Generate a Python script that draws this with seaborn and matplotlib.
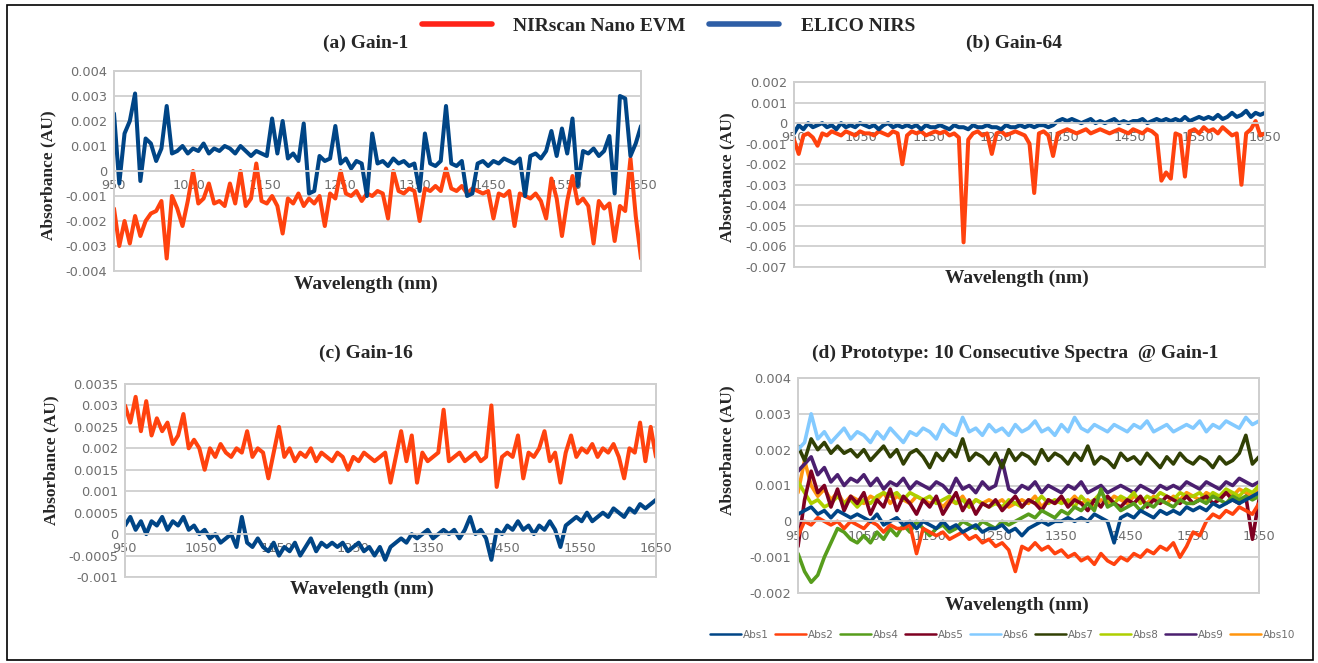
import numpy as np
import pandas as pd
import matplotlib
matplotlib.use("Agg")
import matplotlib.pyplot as plt
from matplotlib.lines import Line2D
from matplotlib.patches import Rectangle
from matplotlib.ticker import FixedLocator, MultipleLocator, FuncFormatter
import seaborn as sns

# ---- data (absorbance written in units of 1e-4 AU) ----
U = 1e-4
wl_abc = np.arange(950, 1651, 7)    # wavelength grid for panels a-c (nm)
wl_d = np.arange(950, 1651, 10)     # wavelength grid for panel d (nm)
x_ticks = [950, 1050, 1150, 1250, 1350, 1450, 1550, 1650]

# (a) Gain-1
a_nirscan = [-15, -30, -20, -29, -18, -26, -20, -17, -16, -12,
             -35, -10, -15, -22, -12, 0, -13, -11, -5, -13,
             -12, -14, -5, -13, 0, -14, -11, 3, -12, -13,
             -10, -14, -25, -11, -13, -9, -14, -11, -13, -10,
             -22, -9, -11, 0, -9, -10, -8, -12, -9, -10,
             -8, -9, -19, 0, -8, -9, -7, -8, -20, -7,
             -8, -6, -8, 1, -7, -8, -6, -9, -7, -8,
             -9, -8, -19, -9, -10, -8, -22, -9, -10, -11,
             -9, -12, -19, -3, -11, -26, -12, -2, -13, -11,
             -14, -29, -12, -15, -13, -28, -14, -16, 5, -18,
             -35]
a_elico = [23, -5, 15, 20, 31, -4, 13, 11, 4, 9,
           26, 7, 8, 10, 7, 9, 8, 11, 7, 9,
           8, 10, 9, 7, 10, 8, 6, 8, 7, 6,
           21, 7, 20, 5, 7, 4, 19, -9, -8, 6,
           4, 5, 18, 3, 5, 1, 4, 3, -10, 15,
           3, 4, 2, 5, 3, 4, 2, 3, -8, 15,
           3, 2, 4, 26, 3, 2, 4, -10, -9, 3,
           4, 2, 4, 3, 5, 4, 3, 5, -10, 6,
           7, 5, 8, 16, 6, 17, 7, 21, -6, 8,
           7, 9, 6, 8, 14, -9, 30, 29, 6, 11,
           18]

# (b) Gain-64
b_nirscan = [-8, -15, -6, -5, -7, -11, -5, -6, -4, -5,
             -6, -4, -5, -6, -4, -5, -5, -6, -4, -5,
             -6, -4, -5, -20, -6, -4, -5, -4, -6, -5,
             -4, -5, -4, -6, -5, -7, -58, -8, -5, -4,
             -6, -5, -15, -5, -4, -6, -5, -4, -5, -6,
             -10, -34, -5, -4, -6, -16, -5, -4, -3, -4,
             -5, -4, -3, -5, -4, -3, -4, -5, -4, -3,
             -4, -5, -3, -4, -5, -3, -4, -6, -28, -24,
             -27, -5, -6, -26, -4, -3, -5, -2, -4, -3,
             -5, -2, -4, -6, -5, -30, -5, -3, 1, -6,
             -5]
b_elico = [-5, -1, -3, 0, -2, -1, 0, -2, -1, -3,
           0, -2, -1, -2, 0, -1, -2, -1, -3, -1,
           0, -2, -1, -2, -1, -2, -1, -3, -1, -2,
           -2, -1, -2, -3, -1, -2, -2, -3, -1, -2,
           -2, -1, -2, -2, -3, -1, -2, -2, -1, -2,
           -1, -2, -1, -1, -2, -1, 1, 2, 1, 2,
           1, 0, 1, 2, 0, 1, 0, 1, 2, 0,
           1, 0, 1, 1, 2, 0, 1, 2, 1, 2,
           1, 2, 1, 3, 1, 2, 3, 2, 3, 2,
           4, 2, 3, 5, 3, 4, 6, 3, 5, 4,
           5]

# (c) Gain-16
c_nirscan = [30, 26, 32, 24, 31, 23, 27, 24, 26, 21,
             23, 28, 20, 22, 20, 15, 20, 18, 21, 19,
             18, 20, 19, 24, 18, 20, 19, 13, 19, 25,
             18, 20, 17, 19, 18, 20, 17, 19, 18, 17,
             19, 18, 15, 18, 17, 19, 18, 17, 18, 19,
             12, 18, 24, 17, 23, 12, 19, 17, 18, 19,
             29, 17, 18, 19, 17, 18, 19, 17, 18, 30,
             11, 18, 19, 18, 23, 13, 19, 18, 20, 24,
             17, 19, 12, 19, 23, 18, 20, 19, 21, 18,
             20, 19, 21, 18, 13, 20, 19, 26, 17, 25,
             18]
c_elico = [2, 4, 1, 3, 0, 3, 2, 4, 1, 3,
           2, 4, 1, 2, 0, 1, -1, 0, -2, -1,
           0, -3, 4, -2, -3, -1, -3, -4, -2, -5,
           -3, -4, -2, -5, -3, -1, -4, -2, -3, -2,
           -3, -2, -4, -3, -2, -4, -3, -5, -3, -6,
           -3, -2, -1, -2, 0, -1, 0, 1, -1, 0,
           1, 0, 1, -1, 1, 4, 0, 1, -1, -6,
           1, 0, 2, 1, 3, 1, 2, 0, 2, 1,
           3, 1, -3, 2, 3, 4, 3, 5, 3, 4,
           5, 4, 6, 5, 4, 6, 5, 7, 6, 7,
           8]

# (d) Prototype: 10 consecutive spectra
abs1 = [2, 3, 4, 2, 3, 1, 3, 2, 1, 2, 1, 0, 2, -1, 0, 1, -1, 0, -2, 0,
        -1, -2, 0, -2, -1, -3, -2, -1, -3, -2, -2, -1, -3, -2, -4, -2, -1, 0, -1, 0,
        0, 1, 0, 1, 0, 2, 1, 0, -6, 1, 2, 1, 3, 2, 1, 3, 2, 3, 2, 4,
        3, 4, 3, 5, 4, 5, 6, 5, 6, 7, 8]
abs2 = [-4, 0, -1, 1, 0, -1, 0, -2, 0, -1, -2, 0, -1, -3, -1, -2, -2, -1, -9, -2,
        -3, -4, -3, -5, -4, -3, -5, -4, -6, -5, -7, -6, -8, -14, -7, -8, -6, -8, -7, -9,
        -8, -10, -9, -11, -10, -12, -9, -11, -12, -10, -11, -9, -10, -8, -9, -7, -8, -6, -10, -7,
        -3, -4, 0, 2, 1, 3, 2, 4, 3, 2, 5]
abs4 = [-9, -14, -17, -15, -10, -6, -2, -3, -5, -6, -4, -6, -3, -5, -2, -4, -1, -3, 0, -2,
        -4, -2, -1, -3, -2, 0, -1, -2, 0, -1, -2, 0, -1, 0, 1, 2, 1, 3, 2, 1,
        3, 2, 4, 3, 5, 3, 9, 4, 5, 3, 4, 5, 3, 5, 4, 6, 5, 4, 6, 5,
        5, 6, 5, 7, 6, 5, 7, 6, 7, 6, 7]
abs5 = [-7, 6, 14, 8, 10, 4, 9, 3, 7, 5, 8, 2, 6, 4, 9, 3, 7, 5, 2, 6,
        4, 7, 2, 5, 8, 3, 6, 2, 5, 4, 6, 3, 5, 7, 4, 6, 5, 3, 6, 5,
        7, 4, 6, 5, 3, 6, 4, 7, 5, 4, 6, 5, 7, 4, 6, 5, 7, 6, 5, 7,
        5, 6, 7, 5, 6, 8, 6, 5, 7, -5, 6]
abs6 = [20, 22, 30, 23, 25, 22, 24, 26, 23, 25, 24, 22, 25, 23, 26, 24, 22, 25, 24, 26,
        25, 23, 27, 25, 24, 29, 25, 26, 24, 27, 25, 26, 24, 27, 25, 26, 28, 25, 26, 24,
        27, 25, 29, 26, 25, 27, 26, 25, 27, 26, 25, 27, 26, 28, 25, 26, 27, 25, 26, 27,
        26, 28, 25, 27, 26, 28, 27, 26, 29, 27, 28]
abs7 = [21, 17, 23, 20, 22, 19, 21, 19, 20, 18, 20, 17, 19, 21, 18, 20, 16, 19, 20, 18,
        15, 19, 17, 20, 18, 23, 17, 19, 18, 16, 19, 15, 20, 17, 19, 18, 16, 20, 17, 19,
        18, 16, 19, 17, 21, 16, 18, 17, 15, 19, 17, 18, 16, 19, 17, 15, 18, 16, 19, 17,
        16, 18, 17, 15, 18, 16, 17, 19, 24, 16, 18]
abs8 = [11, 8, 5, 6, 4, 5, 7, 5, 6, 4, 6, 5, 7, 8, 7, 8, 6, 8, 7, 6,
        7, 5, 6, 7, 5, 6, 4, 6, 5, 4, 5, 4, 6, 5, 4, 6, 5, 7, 5, 6,
        5, 6, 4, 7, 5, 6, 8, 6, 5, 7, 6, 8, 5, 7, 6, 8, 7, 6, 8, 7,
        7, 8, 6, 8, 7, 9, 8, 7, 9, 8, 10]
abs9 = [14, 16, 18, 13, 15, 11, 13, 10, 12, 11, 13, 10, 12, 9, 11, 10, 12, 9, 11, 10,
        9, 11, 10, 8, 12, 9, 10, 8, 11, 9, 10, 17, 9, 8, 10, 9, 11, 8, 10, 9,
        8, 10, 9, 11, 8, 9, 10, 8, 9, 10, 9, 8, 10, 9, 8, 10, 9, 10, 9, 11,
        10, 9, 11, 10, 9, 11, 10, 12, 11, 10, 11]
abs10 = [8, 17, 10, 7, 9, 6, 8, 5, 7, 6, 5, 7, 6, 8, 5, 7, 6, 5, 7, 6,
         5, 6, 4, 6, 5, 7, 4, 6, 5, 6, 5, 6, 4, 5, 6, 5, 7, 4, 6, 5,
         6, 5, 7, 5, 6, 4, 6, 5, 7, 6, 5, 7, 6, 5, 7, 6, 5, 7, 6, 8,
         7, 6, 8, 7, 6, 8, 7, 9, 8, 7, 9]

d_names = ["Abs1", "Abs2", "Abs4", "Abs5", "Abs6", "Abs7", "Abs8", "Abs9", "Abs10"]
d_series = [abs1, abs2, abs4, abs5, abs6, abs7, abs8, abs9, abs10]
d_colors = ["#004586", "#ff420e", "#579d1c", "#7e0021", "#83caff",
            "#314004", "#aecf00", "#4b1f6f", "#ff950e"]

# ---- style ----
sns.set_style("white")
plt.rcParams["font.family"] = ["DejaVu Sans"]

W, H = 1318, 663
ORANGE, BLUE = "#ff420e", "#004586"
GRID = "#cfcfcf"
TICK = "#6e6e6e"
SERIF = dict(family="Liberation Serif", weight="bold")

fig = plt.figure(figsize=(W / 100, H / 100), dpi=100)


def fmt(v, pos):
    if abs(v) < 1e-12:
        return "0"
    return "%g" % round(v, 6)


def panel(box, ylo, yhi, ystep):
    l, t, r, b = box
    ax = fig.add_axes([l / W, 1 - b / H, (r - l) / W, (b - t) / H])
    ax.set_xlim(950, 1650)
    ax.set_ylim(ylo, yhi)
    ax.xaxis.set_major_locator(FixedLocator(x_ticks))
    ax.yaxis.set_major_locator(MultipleLocator(ystep))
    ax.yaxis.set_major_formatter(FuncFormatter(fmt))
    ax.set_axisbelow(True)
    ax.grid(axis="y", color=GRID, lw=1.3)
    ax.grid(axis="x", visible=False)
    for side in ["top", "left", "right", "bottom"]:
        ax.spines[side].set_color(GRID)
        ax.spines[side].set_linewidth(1.3)
    ax.spines["bottom"].set_position(("data", 0))
    ax.add_patch(Rectangle((0, 0), 1, 1, transform=ax.transAxes, fill=False,
                           ec=GRID, lw=1.3, clip_on=False, zorder=0.5))
    ax.tick_params(length=0, labelsize=9.3, labelcolor=TICK)
    ax.tick_params(axis="x", pad=6)
    ax.tick_params(axis="y", pad=5)
    return ax


def label(x, y, s, size=14, rot=0):
    fig.text(x / W, 1 - y / H, s, ha="center", va="center", fontsize=size,
             rotation=rot, **SERIF)


def pair(ax, nir, elico):
    sns.lineplot(x=wl_abc, y=np.array(nir) * U, ax=ax, color=ORANGE, lw=2.9,
                 estimator=None, sort=False)
    sns.lineplot(x=wl_abc, y=np.array(elico) * U, ax=ax, color=BLUE, lw=2.9,
                 estimator=None, sort=False)
    ax.set_xlabel("")
    ax.set_ylabel("")


# (a)
ax_a = panel((114, 71, 641, 271), -0.004, 0.004, 0.001)
pair(ax_a, a_nirscan, a_elico)
label(366, 43, "(a) Gain-1")
label(366, 284, "Wavelength (nm)")
label(48, 175, "Absorbance (AU)", 12.5, 90)

# (b)
ax_b = panel((794, 82, 1265, 267), -0.007, 0.002, 0.001)
pair(ax_b, b_nirscan, b_elico)
label(1014, 43, "(b) Gain-64")
label(1017, 278, "Wavelength (nm)")
label(727, 177, "Absorbance (AU)", 12.5, 90)

# (c)
ax_c = panel((125, 384, 656, 577), -0.001, 0.0035, 0.0005)
pair(ax_c, c_nirscan, c_elico)
label(366, 353, "(c) Gain-16")
label(362, 589, "Wavelength (nm)")
label(51, 460, "Absorbance (AU)", 12.5, 90)

# (d)
ax_d = panel((798, 378, 1259, 593), -0.002, 0.004, 0.001)
df_d = pd.DataFrame({
    "wl": np.tile(wl_d, len(d_names)),
    "abs": np.concatenate([np.array(s) * U for s in d_series]),
    "run": np.repeat(d_names, len(wl_d)),
})
sns.lineplot(data=df_d, x="wl", y="abs", hue="run", hue_order=d_names[::-1],
             palette=dict(zip(d_names, d_colors)), ax=ax_d, lw=2.6,
             estimator=None, sort=False, legend=False)
ax_d.set_xlabel("")
ax_d.set_ylabel("")
label(1015, 353, "(d) Prototype: 10 Consecutive Spectra  @ Gain-1")
label(1017, 605, "Wavelength (nm)")
label(727, 450, "Absorbance (AU)", 12.5, 90)

d_handles = [Line2D([], [], color=c, lw=1.8) for c in d_colors]
fig.legend(d_handles, d_names, loc="center left", bbox_to_anchor=(710 / W, 1 - 635 / H),
           ncol=9, frameon=False, borderpad=0, borderaxespad=0, handlelength=3.0,
           handletextpad=0.2, columnspacing=0.55, fontsize=7.5, labelcolor=TICK)

# top legend
top_handles = [Line2D([], [], color="#ff2318", lw=4), Line2D([], [], color="#2e5ea6", lw=4)]
fig.legend(top_handles, ["NIRscan Nano EVM", "ELICO NIRS"], loc="center left",
           bbox_to_anchor=(422 / W, 1 - 26 / H), ncol=2, frameon=False, borderpad=0,
           borderaxespad=0, handlelength=3.6, handletextpad=1.1, columnspacing=1.2,
           prop=dict(family="Liberation Serif", weight="bold", size=14))

# outer frame
fig.add_artist(Rectangle((7 / W, 1 - 660 / H), (1313 - 7) / W, (660 - 5) / H,
                         transform=fig.transFigure, fill=False, ec="black", lw=1.2))

fig.savefig("out.png", dpi=100)
